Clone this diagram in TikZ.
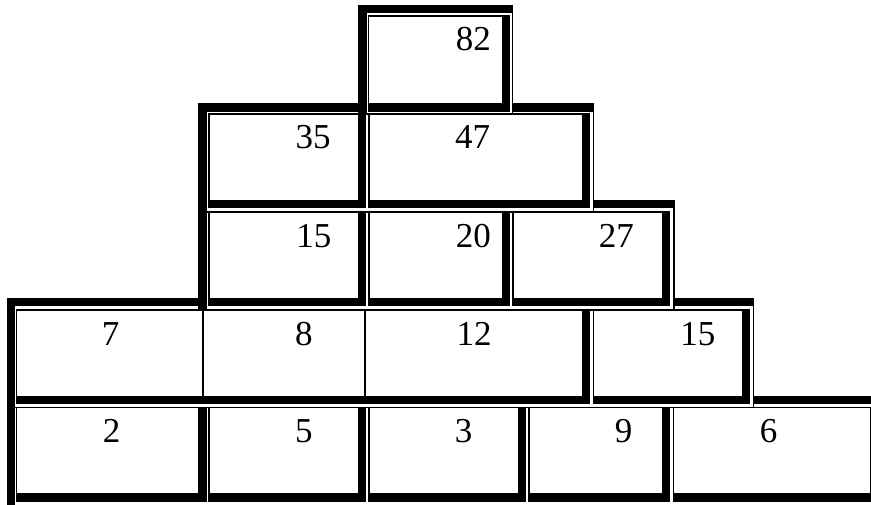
\documentclass[tikz,border=0pt]{standalone}
\usepackage{fontspec}
\setmainfont{Liberation Serif}
\usepackage{tikz}

% outer frame of one row: heavy top/left, thin bottom/right
\newcommand{\pyrframe}[4]{%
  \fill[black] (#1,#2) rectangle (#3,#4);
  \fill[white] (#1+8.3,#2+8.3) rectangle (#3-1.7,#4-1.7);}
% one cell: thin top/left, heavy bottom/right
\newcommand{\pyrcell}[4]{%
  \fill[black] (#1,#2) rectangle (#3,#4);
  \fill[white] (#1+1.7,#2+1.7) rectangle (#3-8.3,#4-8.3);}

\begin{document}
\begin{tikzpicture}[x=1pt,y=-1pt,
  num/.style={anchor=base,inner sep=0pt,font=\fontsize{35}{42}\selectfont}]
  \useasboundingbox (0,0) rectangle (871,504);
  \clip (0,0) rectangle (871,504);
  % bottom row
  \pyrframe{6.7}{396}{890}{520}
  \pyrcell{15.5}{406.6}{206.6}{501.6}
  \pyrcell{208.3}{406.6}{366.3}{501.6}
  \pyrcell{368.3}{406.6}{526.3}{501.6}
  \pyrcell{528.3}{406.6}{670}{501.6}
  \pyrcell{672.7}{406.6}{878.3}{501.6}
  % fourth row
  \pyrframe{6.7}{297.7}{754.3}{408.3}
  \pyrcell{15.5}{309}{590.3}{404.3}
  \pyrcell{592.5}{309}{750}{404.3}
  \fill[black] (202.3,310.7) rectangle (204.3,396);
  \fill[black] (364.3,310.7) rectangle (366,396);
  % third row
  \pyrframe{198.3}{200}{675}{310.7}
  \pyrcell{208.3}{211}{366}{306}
  \pyrcell{368.3}{211}{510}{306}
  \pyrcell{512.3}{211}{670}{306}
  % second row
  \pyrframe{198.3}{103.3}{594.3}{212.7}
  \pyrcell{208.3}{113.3}{366}{208.3}
  \pyrcell{368}{113.3}{590.3}{208.3}
  % top
  \pyrframe{358.3}{5}{513.3}{115}
  \pyrcell{367.7}{14.8}{510}{111.5}

  \node[num] (v82) at (473.3,50.7) {82};
  \node[num] (v35) at (313,148.3) {35};
  \node[num] (v47) at (472.5,148.3) {47};
  \node[num] (v15a) at (313.8,247.3) {15};
  \node[num] (v20) at (473.3,247.3) {20};
  \node[num] (v27) at (616.3,247.3) {27};
  \node[num] (v7) at (110.5,345) {7};
  \node[num] (v8) at (303.8,345) {8};
  \node[num] (v12) at (474,345) {12};
  \node[num] (v15b) at (697.8,345) {15};
  \node[num] (v2) at (111.7,442.7) {2};
  \node[num] (v5) at (303.8,442.7) {5};
  \node[num] (v3) at (463.7,442.7) {3};
  \node[num] (v9) at (623.7,442.7) {9};
  \node[num] (v6) at (768.7,442.7) {6};
\end{tikzpicture}
\end{document}
